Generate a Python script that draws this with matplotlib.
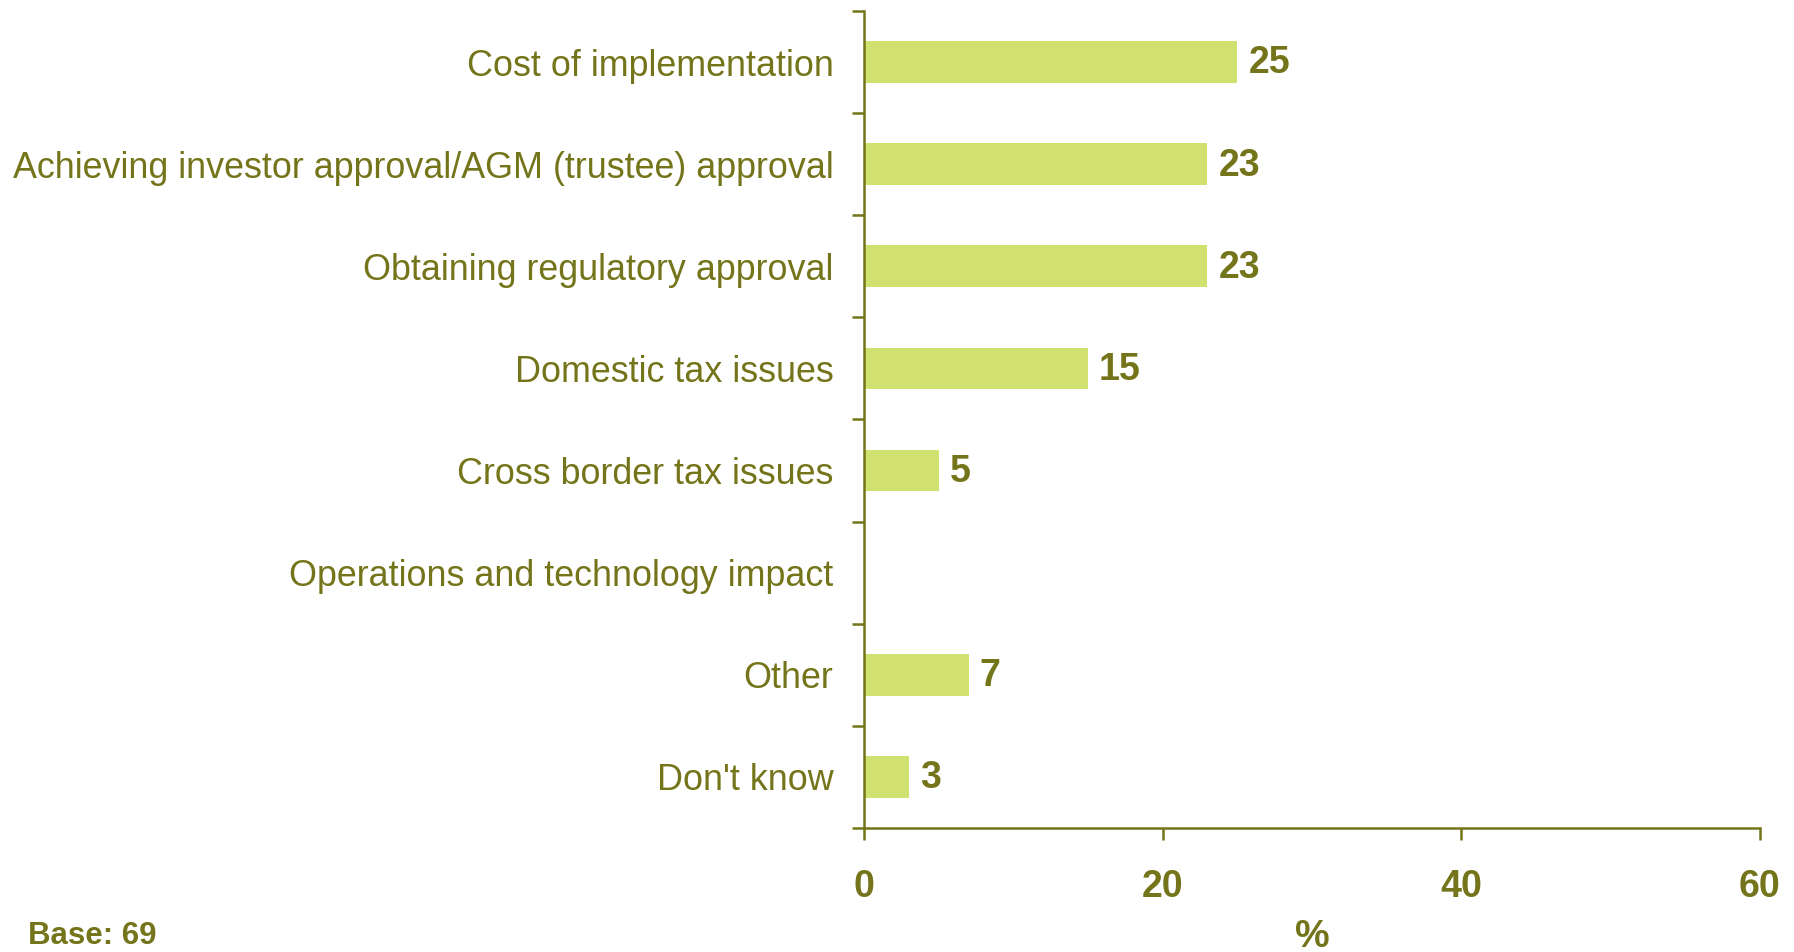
import matplotlib.pyplot as plt
import numpy as np

categories = ["Cost of implementation",
              "Achieving investor approval/AGM (trustee) approval",
              "Obtaining regulatory approval",
              "Domestic tax issues",
              "Cross border tax issues",
              "Operations and technology impact",
              "Other",
              "Don't know"]
values = [25, 23, 23, 15, 5, 0, 7, 3]
xticks = [0, 20, 40, 60]

olive = '#74741A'
bar_col = '#D1E170'
plt.rcParams['font.family'] = ['Liberation Sans', 'DejaVu Sans']

fig = plt.figure(figsize=(17.94, 9.52), dpi=100)
ax = fig.add_axes([0.4816, 0.1303, 0.981 - 0.4816, 0.9884 - 0.1303])

y = np.arange(len(categories))
ax.barh(y, values, height=0.41, color=bar_col)
for yi, v in zip(y, values):
	if v > 0:
		ax.annotate(str(v), (v, yi), xytext=(8, -1), textcoords='offset points',
					va='center', ha='left', fontsize=27, fontweight='bold', color=olive)

ax.set_ylim(len(categories) - 0.5, -0.5)
ax.set_xlim(0, 60)
ax.set_yticks(y)
ax.set_yticklabels(categories, fontsize=25.8, color=olive)
ax.tick_params(axis='y', which='major', length=0, pad=22)
ax.set_yticks(np.arange(len(categories) + 1) - 0.5, minor=True)
ax.tick_params(axis='y', which='minor', length=8.6, width=1.8, color=olive)

ax.set_xticks(xticks)
ax.set_xticklabels([str(t) for t in xticks], fontsize=27, fontweight='bold', color=olive)
ax.tick_params(axis='x', length=8.6, width=1.8, color=olive, pad=21)
ax.set_xlabel('%', fontsize=28, fontweight='bold', color=olive, labelpad=10)

for s in ['top', 'right']:
	ax.spines[s].set_visible(False)
for s in ['left', 'bottom']:
	ax.spines[s].set_color(olive)
	ax.spines[s].set_linewidth(1.8)

fig.text(28 / 1794, 1 - 936 / 952, 'Base: 69', fontsize=22.5, fontweight='bold',
		 color=olive, ha='left', va='center')

fig.savefig('out.png', dpi=100)
